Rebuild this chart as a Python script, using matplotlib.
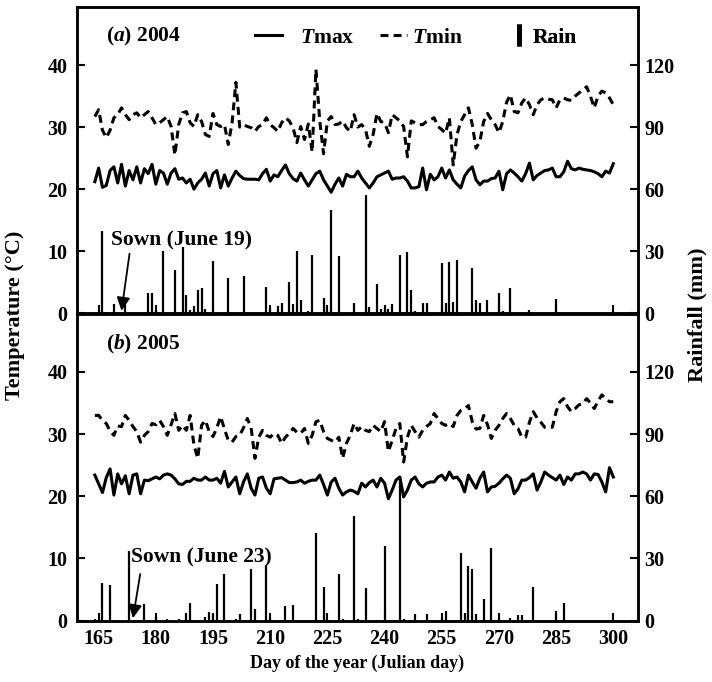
import numpy as np
import matplotlib
matplotlib.use("Agg")
import matplotlib.pyplot as plt
from matplotlib.lines import Line2D

plt.rcParams['font.family'] = ['Liberation Serif', 'DejaVu Serif']
plt.rcParams['font.weight'] = 'bold'
plt.rcParams['font.size'] = 15.5
plt.rcParams['mathtext.fontset'] = 'custom'
plt.rcParams['mathtext.it'] = 'Liberation Serif:bold:italic'
plt.rcParams['mathtext.rm'] = 'Liberation Serif:bold'

# day of year 164..300
days = np.arange(164, 301)

tmax04 = [21.2, 23.4, 20.3, 20.6, 23.0, 23.6, 21.0, 24.0, 20.5, 23.0,
          21.5, 23.6, 21.0, 23.3, 22.5, 24.0, 20.8, 23.0, 22.6, 20.8,
          22.6, 23.3, 21.6, 21.8, 21.0, 21.6, 20.0, 21.0, 21.6, 22.6,
          20.5, 22.5, 23.0, 20.2, 22.3, 20.5, 21.8, 22.9, 22.2, 21.7,
          21.6, 21.6, 21.6, 21.5, 22.5, 23.2, 21.3, 22.3, 22.0, 23.0,
          23.9, 22.5, 21.7, 21.3, 22.6, 21.5, 20.5, 21.5, 22.5, 22.9,
          21.5, 20.5, 19.5, 20.8, 21.8, 20.5, 22.4, 22.0, 22.0, 22.9,
          21.8, 21.0, 20.2, 21.0, 22.0, 22.3, 22.6, 22.9, 21.6, 21.8,
          21.8, 22.0, 21.3, 20.2, 20.2, 20.4, 23.4, 19.9, 22.4, 21.5,
          22.0, 23.4, 21.8, 23.1, 21.5, 20.8, 20.2, 22.1, 23.0, 23.6,
          21.5, 20.7, 21.3, 21.3, 21.7, 21.8, 22.9, 19.9, 22.5, 23.1,
          22.6, 22.0, 21.3, 22.5, 24.2, 21.5, 22.2, 22.6, 23.0, 23.1,
          23.4, 22.0, 22.0, 22.8, 24.5, 23.3, 23.1, 23.4, 23.2, 23.1,
          23.0, 22.8, 22.5, 22.0, 22.9, 22.6, 24.1]
tmin04 = [31.7, 32.8, 29.5, 28.3, 29.5, 31.5, 32.0, 33.1, 32.0, 31.2,
          32.0, 32.3, 31.5, 32.0, 32.5, 31.5, 30.4, 30.7, 31.2, 31.7,
          30.1, 25.5, 30.4, 32.3, 32.5, 30.7, 30.1, 32.0, 30.9, 28.8,
          28.5, 32.2, 30.4, 30.1, 30.4, 27.2, 30.7, 37.2, 30.0, 30.4,
          30.1, 29.9, 29.3, 30.1, 30.4, 31.5, 30.4, 29.9, 29.3, 30.7,
          31.5, 31.0, 29.9, 27.5, 30.1, 28.0, 30.5, 26.0, 39.3, 31.0,
          25.7, 31.0, 31.7, 30.4, 30.5, 31.0, 29.9, 29.3, 32.0, 30.0,
          30.4, 29.6, 26.9, 28.8, 32.2, 30.9, 30.7, 29.1, 32.0, 31.5,
          31.0, 30.1, 25.2, 31.0, 30.7, 30.4, 30.4, 30.9, 31.2, 31.5,
          30.1, 29.6, 29.0, 31.5, 23.9, 28.8, 30.9, 32.0, 33.1, 30.4,
          26.6, 27.7, 30.9, 32.2, 31.2, 30.4, 29.1, 30.9, 34.0, 35.2,
          32.5, 32.3, 33.9, 34.7, 33.6, 32.0, 33.6, 34.4, 34.7, 34.5,
          34.4, 33.1, 34.4, 34.7, 34.4, 34.3, 35.0, 35.5, 36.0, 36.5,
          35.0, 33.1, 35.0, 35.8, 35.5, 34.7, 33.6]
rain04_day = [165, 166, 167, 169, 172, 178, 179, 180, 182, 185, 187, 188, 189,
              190, 191, 192, 193, 195, 199, 203, 209, 210, 212, 213, 215, 216,
              217, 218, 220, 221, 224, 225, 226, 228, 232, 235, 236, 238, 239,
              240, 241, 242, 244, 246, 247, 248, 250, 251, 255, 256, 257, 258,
              259, 263, 264, 265, 267, 270, 271, 273, 278, 285]
rain04_mm = [1.5, 40, 0.5, 4.5, 7, 10, 10, 1.5, 30, 21, 32, 9, 1.5,
             3.5, 11.3, 12, 2, 25.5, 17.2, 18, 12.9, 2, 3.5, 5, 15, 4.5,
             30, 6.6, 1, 28.2, 7.5, 1.5, 50, 27.7, 5.1, 57.2, 3.2, 14, 2,
             3, 2, 4.5, 28.2, 29.5, 11.3, 1, 5, 5, 24.2, 5, 25, 5.5,
             25.8, 22, 6.2, 5, 6.5, 10, 1, 12, 1.5, 7]

tmax05 = [23.4, 22.0, 20.6, 23.0, 24.4, 20.2, 23.6, 22.0, 23.3, 20.4,
          23.4, 23.6, 20.4, 22.6, 22.5, 22.8, 23.1, 22.8, 23.4, 23.6,
          23.4, 22.8, 22.0, 21.9, 22.4, 22.4, 22.9, 22.6, 22.6, 23.1,
          22.6, 22.6, 22.9, 22.1, 24.0, 21.5, 22.3, 23.1, 20.4, 22.3,
          23.6, 21.3, 20.2, 22.9, 23.1, 21.3, 20.4, 22.8, 22.9, 23.0,
          22.6, 22.2, 22.2, 22.3, 22.6, 22.1, 22.4, 22.6, 22.6, 23.4,
          21.9, 20.2, 22.3, 22.9, 21.3, 20.2, 20.7, 21.0, 20.8, 20.4,
          22.1, 21.5, 22.2, 22.6, 21.5, 22.9, 22.1, 19.6, 21.0, 22.6,
          23.1, 19.9, 21.0, 22.6, 23.1, 22.0, 21.5, 22.1, 22.3, 22.3,
          23.1, 23.4, 22.6, 23.9, 22.9, 23.1, 22.3, 20.7, 23.4, 22.3,
          21.3, 22.9, 23.9, 20.7, 21.5, 21.6, 22.1, 22.8, 23.4, 22.9,
          20.4, 21.2, 22.6, 22.6, 23.0, 23.6, 21.0, 22.3, 23.9, 23.4,
          23.0, 22.6, 23.4, 21.9, 23.1, 22.6, 23.6, 23.6, 23.9, 23.6,
          22.6, 23.6, 23.5, 22.3, 20.7, 24.6, 23.1]
tmin05 = [33.0, 33.0, 32.2, 31.7, 30.5, 29.8, 31.3, 31.2, 33.0, 32.2,
          31.2, 30.4, 28.7, 29.8, 30.4, 31.7, 31.5, 32.2, 31.2, 29.8,
          31.5, 33.3, 30.6, 31.4, 30.6, 33.0, 28.2, 26.1, 31.4, 32.2,
          30.4, 29.6, 31.0, 32.8, 30.8, 29.0, 28.7, 29.6, 29.8, 31.0,
          32.5, 31.0, 26.1, 29.5, 30.6, 29.8, 29.5, 30.1, 29.8, 28.5,
          29.5, 30.1, 30.9, 30.3, 30.1, 30.9, 28.5, 29.8, 32.0, 32.2,
          30.4, 29.3, 29.0, 28.7, 29.5, 26.1, 28.5, 29.8, 31.7, 30.6,
          31.2, 30.6, 30.4, 31.4, 30.9, 30.4, 32.0, 27.2, 29.0, 30.9,
          31.7, 25.5, 29.5, 31.4, 30.4, 29.5, 30.6, 31.2, 31.7, 33.3,
          32.5, 31.7, 31.4, 31.7, 31.2, 33.0, 33.8, 34.1, 34.6, 32.0,
          30.8, 30.9, 33.0, 31.5, 29.3, 30.6, 31.4, 32.5, 33.3, 32.5,
          31.4, 30.9, 29.5, 29.5, 31.9, 33.6, 32.6, 31.9, 31.1, 31.1,
          31.1, 33.6, 35.2, 35.7, 34.4, 33.6, 34.1, 34.7, 34.9, 35.7,
          35.0, 34.1, 35.3, 36.3, 35.7, 35.2, 35.2]
rain05_day = [164, 166, 168, 173, 177, 180, 183, 186, 188, 189, 193, 194, 195,
              196, 198, 201, 202, 205, 206, 209, 210, 214, 216, 222, 224, 225,
              228, 229, 232, 233, 235, 238, 240, 244, 245, 248, 251, 255, 256,
              260, 261, 262, 263, 264, 266, 268, 269, 270, 273, 275, 276, 279,
              285, 287]
rain05_mm = [1, 18, 17.2, 33.7, 8, 2, 1, 1, 3.5, 8.7, 1.6, 4, 3,
             17.5, 22.4, 1, 3.2, 25, 5.5, 27, 1.5, 7.2, 7.5, 42.4, 16.4, 1,
             22.5, 1, 50.4, 1, 15.6, 0.5, 36, 70, 1, 3.2, 3.2, 1.5, 4.5,
             32.7, 3.5, 26.6, 25, 3.2, 10.3, 34.9, 0.5, 1.5, 1.5, 2.7, 2.7, 16.4,
             4.8, 8.4]

panels = [
    dict(tmax=tmax04, tmin=tmin04, rd=rain04_day, rm=rain04_mm,
         title=r'($\mathit{a}$) 2004', sown='Sown (June 19)', sday=171,
         txt=(168.2, 11.8), arr=(173.1, 9.6)),
    dict(tmax=tmax05, tmin=tmin05, rd=rain05_day, rm=rain05_mm,
         title=r'($\mathit{b}$) 2005', sown='Sown (June 23)', sday=174,
         txt=(173.6, 10.2), arr=(175.9, 7.5)),
]

W, H = 712, 682
fig = plt.figure(figsize=(W / 100, H / 100), dpi=100)
left, right = 77.3 / W, 637.7 / W
rects = [(left, 1 - 313.3 / H, right - left, 306.0 / H),
         (left, 1 - 620.7 / H, right - left, 306.7 / H)]

dash = (0, (2.6, 1.7))
for i, (p, r) in enumerate(zip(panels, rects)):
    ax = fig.add_axes(r)
    ax2 = ax.twinx()
    ax.plot(days, p['tmax'], color='k', lw=2.2, solid_joinstyle='round')
    ax.plot(days, p['tmin'], color='k', lw=2.2, ls=dash)
    ax2.vlines(p['rd'], 0, p['rm'], color='k', lw=1.6)

    ax.set_xlim(159.4, 306.4)
    ax.set_ylim(0, 49.3)
    ax2.set_ylim(0, 49.3 * 3)
    ax.set_xticks(np.arange(165, 301, 15))
    ax.set_yticks([0, 10, 20, 30, 40])
    ax2.set_yticks([0, 30, 60, 90, 120])
    ax.tick_params(axis='both', direction='in', length=6, width=1.5,
                   labelsize=14.5)
    ax.tick_params(axis='y', pad=7)
    ax.tick_params(axis='x', pad=6, labelbottom=(i == 1))
    ax2.tick_params(axis='y', direction='in', length=6, width=1.5, pad=5,
                    labelsize=14.5)
    for a in (ax, ax2):
        for s in a.spines.values():
            s.set_linewidth(1.8)

    ax.text(0.051, 0.905 if i == 0 else 0.9, p['title'], transform=ax.transAxes,
            ha='left', va='center')
    ax.annotate('', xy=(p['sday'], 0.4), xytext=p['arr'],
                arrowprops=dict(arrowstyle='-|>', color='k', lw=1.3,
                                mutation_scale=20, shrinkA=0, shrinkB=0))
    ax.text(p['txt'][0], p['txt'][1], p['sown'], ha='left', va='center')

    if i == 0:
        # legend entries placed one by one, as in the original
        entries = [
            (Line2D([], [], color='k', lw=2.2), r'$\mathit{T}$max',
             0.317, 1.25, 0.85),
            (Line2D([], [], color='k', lw=2.2, ls=dash), r'$\mathit{T}$min',
             0.54, 1.25, 0.25),
            (Line2D([], [], color='k', ls='none', marker='|',
                    markersize=16, markeredgewidth=3.5), 'Rain',
             0.776, 0.6, 0.35),
        ]
        for h, lab, xa, hl, tp in entries:
            lg = ax.legend([h], [lab], loc='center left',
                           bbox_to_anchor=(xa, 0.9), frameon=False,
                           handlelength=hl, handletextpad=tp,
                           borderpad=0, borderaxespad=0)
            ax.add_artist(lg)

fig.text(15 / W, 1 - 315 / H, 'Temperature (\u00b0C)', rotation=90,
         ha='center', va='center', fontsize=16)
fig.text(697 / W, 1 - 315 / H, 'Rainfall (mm)', rotation=90,
         ha='center', va='center', fontsize=16)
fig.text((left + right) / 2, 1 - 663 / H, 'Day of the year (Julian day)',
         ha='center', va='center', fontsize=13)

fig.savefig('out.png', dpi=100)
